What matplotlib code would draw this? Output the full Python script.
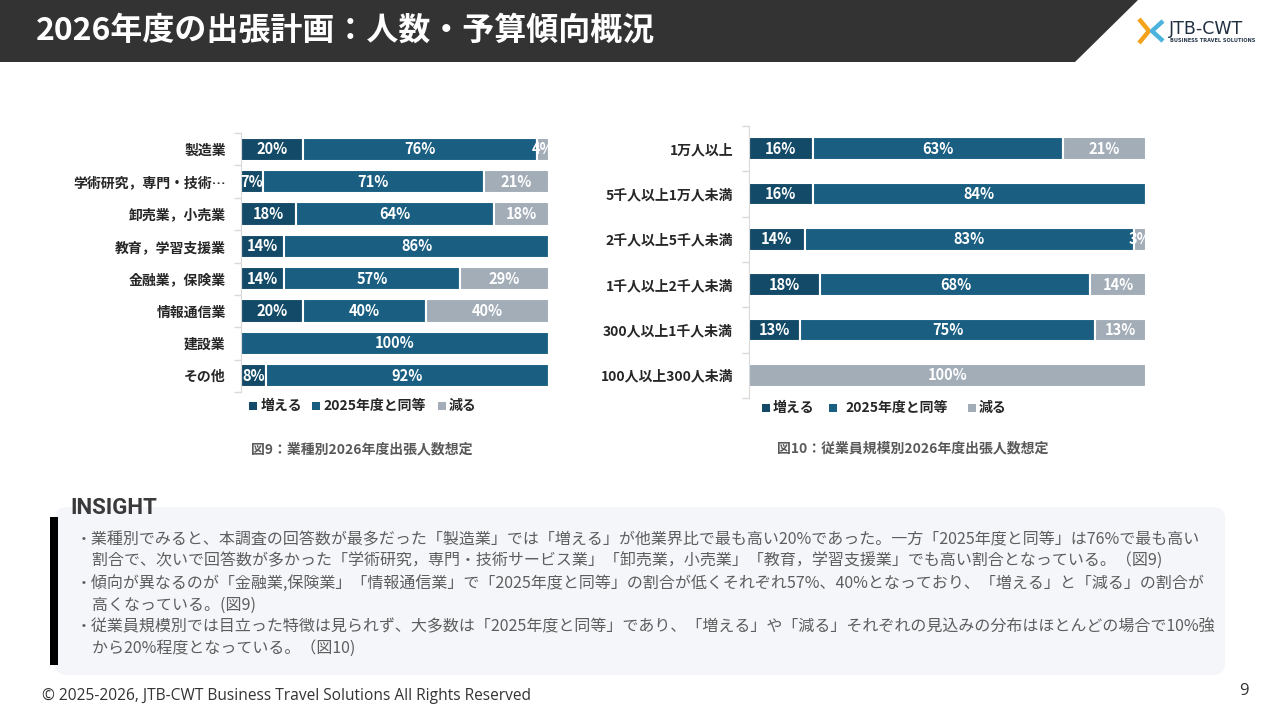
import numpy as np
import matplotlib
matplotlib.use('Agg')
import matplotlib.pyplot as plt
from matplotlib.patches import Polygon, Rectangle, FancyBboxPatch

plt.rcParams['font.family'] = ['Noto Sans CJK JP', 'DejaVu Sans']

# data: 図9 業種別
industries = ['製造業', '学術研究，専門・技術…', '卸売業，小売業', '教育，学習支援業',
              '金融業，保険業', '情報通信業', '建設業', 'その他']
ind_increase = [20, 7, 18, 14, 14, 20, 0, 8]
ind_same = [76, 71, 64, 86, 57, 40, 100, 92]
ind_decrease = [4, 21, 18, 0, 29, 40, 0, 0]

# data: 図10 従業員規模別
sizes = ['1万人以上', '5千人以上1万人未満', '2千人以上5千人未満', '1千人以上2千人未満',
         '300人以上1千人未満', '100人以上300人未満']
size_increase = [16, 16, 14, 18, 13, 0]
size_same = [63, 84, 83, 68, 75, 0]
size_decrease = [21, 0, 3, 14, 13, 100]

series_names = ['増える', '2025年度と同等', '減る']
colors = ['#134a68', '#1a5f82', '#a3adb8']

title = '2026年度の出張計画：人数・予算傾向概況'
insight_lines = [
    '・業種別でみると、本調査の回答数が最多だった「製造業」では「増える」が他業界比で最も高い20%であった。一方「2025年度と同等」は76%で最も高い',
    '　割合で、次いで回答数が多かった「学術研究，専門・技術サービス業」「卸売業，小売業」「教育，学習支援業」でも高い割合となっている。（図9)',
    '・傾向が異なるのが「金融業,保険業」「情報通信業」で「2025年度と同等」の割合が低くそれぞれ57%、40%となっており、「増える」と「減る」の割合が',
    '　高くなっている。(図9)',
    '・従業員規模別では目立った特徴は見られず、大多数は「2025年度と同等」であり、「増える」や「減る」それぞれの見込みの分布はほとんどの場合で10%強',
    '　から20%程度となっている。（図10)',
]
insight_y = [540, 560, 583, 605, 627, 648]

W, H = 1280, 720
fig = plt.figure(figsize=(12.8, 7.2), dpi=100)
fig.patch.set_facecolor('white')

# background layer in pixel coordinates
bg = fig.add_axes([0, 0, 1, 1])
bg.set_xlim(0, W)
bg.set_ylim(H, 0)
bg.axis('off')

# header
bg.add_patch(Polygon([(0, 0), (1138, 0), (1075, 62), (0, 62)], closed=True,
                     facecolor='#333333', edgecolor='none'))
bg.text(36, 31, title, color='white', fontsize=23, fontweight='bold', va='center', ha='left')

# logo
bg.plot([1139, 1149, 1139], [19, 31, 43], color='#f5a21b', lw=3.2, solid_capstyle='butt')
bg.plot([1163, 1152, 1163], [21, 31, 41], color='#4bb3dd', lw=3.2, solid_capstyle='butt')
bg.text(1169, 29, 'JTB-CWT', color='#1f2f40', fontsize=12.5, va='center', ha='left',
        family='DejaVu Sans')
bg.text(1170, 41, 'BUSINESS TRAVEL SOLUTIONS', color='#2a3a4c', fontsize=3.6, va='center',
        ha='left', family='DejaVu Sans', fontweight='bold')


def pix_axes(x0, y0, x1, y1):
    return fig.add_axes([x0 / W, 1 - y1 / H, (x1 - x0) / W, (y1 - y0) / H])


def draw_stacked(ax, labels, inc, same, dec, height, pad):
    n = len(labels)
    y = np.arange(n)
    tot = np.array(inc) + np.array(same) + np.array(dec)
    left = np.zeros(n)
    for vals, color in zip([inc, same, dec], colors):
        w = np.array(vals) / tot * 100
        bars = ax.barh(y, w, left=left, height=height, color=color,
                       edgecolor='white', linewidth=1.5)
        for b, v in zip(bars, vals):
            if v > 0:
                ax.text(b.get_x() + b.get_width() / 2, b.get_y() + b.get_height() / 2,
                        f'{v}%', color='white', fontsize=10.5, fontweight='bold',
                        ha='center', va='center')
        left += w
    ax.set_xlim(0, 100)
    ax.set_ylim(n - 0.5, -0.5)
    ax.set_xticks([])
    ax.set_yticks(y)
    ax.set_yticklabels(labels, fontsize=10, fontweight='bold', color='#262626')
    ax.set_yticks(np.arange(n + 1) - 0.5, minor=True)
    ax.tick_params(axis='y', which='major', length=0, pad=pad)
    ax.tick_params(axis='y', which='minor', length=5, color='#d9d9d9', width=1)
    for s in ['top', 'right', 'bottom']:
        ax.spines[s].set_visible(False)
    ax.spines['left'].set_color('#d9d9d9')
    ax.set_facecolor('none')


def legend(xs, y):
    for (sq, tx), name, color in zip(xs, series_names, colors):
        bg.add_patch(Rectangle((sq, y - 4), 8, 8, facecolor=color, edgecolor='none'))
        bg.text(tx, y, name, fontsize=10, fontweight='bold', color='#262626',
                va='center', ha='left')


ax1 = pix_axes(241, 133, 549, 392)
draw_stacked(ax1, industries, ind_increase, ind_same, ind_decrease, 0.72, 11)
legend([(249, 261), (312, 323), (438, 449)], 406)
bg.text(362, 449, '図9：業種別2026年度出張人数想定', fontsize=10, fontweight='bold',
        color='#595959', ha='center', va='center')

ax2 = pix_axes(749, 126, 1146, 398)
draw_stacked(ax2, sizes, size_increase, size_same, size_decrease, 0.5, 11.5)
legend([(762, 773), (829, 845), (968, 979)], 408)
bg.text(913, 448, '図10：従業員規模別2026年度出張人数想定', fontsize=10, fontweight='bold',
        color='#595959', ha='center', va='center')

# insight box
bg.add_patch(FancyBboxPatch((55, 507), 1170, 168, boxstyle='round,pad=0,rounding_size=12',
                            facecolor='#f4f6fa', edgecolor='none'))
bg.add_patch(Rectangle((50, 517), 8, 148, facecolor='black', edgecolor='none'))
insight_label = bg.text(70, 508, 'INSIGHT', fontsize=16, fontweight='bold', color='#3a3a3a',
                        va='center', ha='left', family='Roboto')
for line, yy in zip(insight_lines, insight_y):
    bg.text(76, yy, line, fontsize=11.5, color='#5e5e5e', va='center', ha='left')

# footer
bg.text(42, 696, '© 2025-2026, JTB-CWT Business Travel Solutions All Rights Reserved',
        fontsize=11.2, color='#333333', va='center', ha='left', family='Open Sans')
bg.text(1244, 691, '9', fontsize=12, color='#333333', va='center', ha='center',
        family='Open Sans')

fig.savefig('out.png', dpi=100)
